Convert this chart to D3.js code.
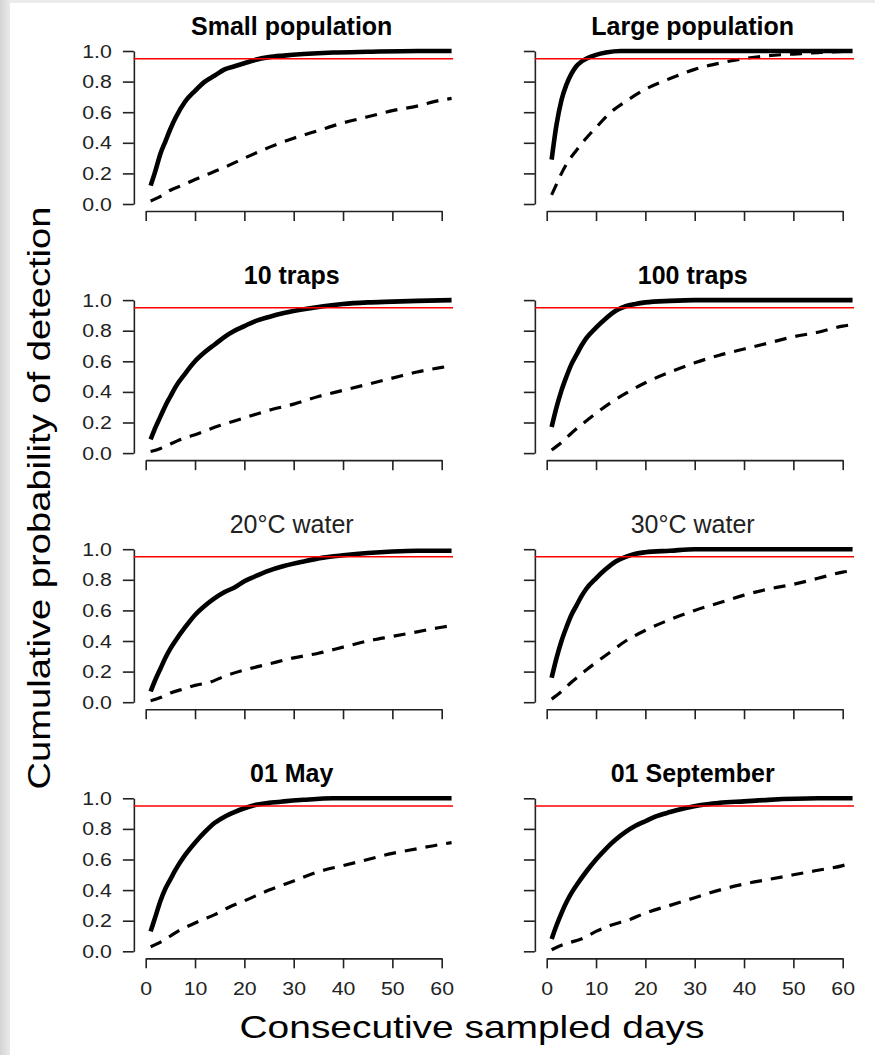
<!DOCTYPE html>
<html>
<head>
<meta charset="utf-8">
<script src="https://cdn.jsdelivr.net/npm/d3@7"></script>
<style>
  body { margin: 0; background: #fff; }
  svg text { font-family: "Liberation Sans", Arial, sans-serif; }
</style>
</head>
<body>
<div id="chart"></div>
<script>
// panel titles, left to right, top to bottom
let panelTitles = ["Small population", "Large population", "10 traps", "100 traps",
    "20\u00B0C water", "30\u00B0C water", "01 May", "01 September"];
let titleBold = [true, true, true, true, false, false, true, true];

let xTicks = [0, 10, 20, 30, 40, 50, 60];
let yTicks = [0, 0.2, 0.4, 0.6, 0.8, 1.0];
let threshold = 0.95;

// [day, cumulative probability]
let smallPopSolid = [[1,0.12],[2,0.22],[3,0.33],[4,0.41],[5,0.49],[6,0.56],[8,0.67],[10,0.74],[12,0.80],[14,0.84],[16,0.88],[18,0.90],[20,0.92],[22,0.94],[25,0.96],[28,0.97],[32,0.98],[38,0.99],[45,0.995],[55,1.0],[62,1.0]];
let smallPopDash = [[1,0.02],[3,0.05],[5,0.09],[8,0.13],[10,0.16],[13,0.20],[16,0.24],[20,0.30],[25,0.37],[30,0.43],[35,0.48],[40,0.53],[45,0.57],[50,0.61],[55,0.64],[60,0.68],[62,0.69]];

let largePopSolid = [[1,0.29],[2,0.52],[3,0.68],[4,0.78],[5,0.85],[6,0.90],[7,0.93],[8,0.95],[10,0.975],[12,0.99],[15,1.0],[62,1.0]];
let largePopDash = [[1,0.06],[2,0.13],[3,0.20],[4,0.26],[6,0.35],[8,0.43],[10,0.50],[13,0.60],[16,0.67],[20,0.75],[25,0.82],[30,0.88],[35,0.92],[40,0.95],[45,0.97],[50,0.98],[55,0.99],[62,1.0]];

let traps10Solid = [[1,0.09],[2,0.17],[3,0.24],[4,0.31],[5,0.37],[6,0.43],[8,0.52],[10,0.60],[12,0.66],[14,0.71],[16,0.76],[18,0.80],[20,0.83],[22,0.86],[25,0.89],[28,0.915],[32,0.94],[36,0.96],[40,0.975],[45,0.985],[50,0.99],[55,0.995],[62,1.0]];
let traps10Dash = [[1,0.01],[3,0.03],[5,0.06],[8,0.10],[10,0.12],[15,0.18],[20,0.23],[25,0.28],[30,0.32],[35,0.37],[40,0.41],[45,0.45],[50,0.49],[55,0.53],[60,0.56],[62,0.57]];

let traps100Solid = [[1,0.17],[2,0.30],[3,0.41],[4,0.50],[5,0.58],[6,0.64],[7,0.70],[8,0.75],[10,0.82],[12,0.88],[14,0.93],[16,0.96],[18,0.975],[20,0.985],[25,0.995],[30,1.0],[62,1.0]];
let traps100Dash = [[1,0.02],[3,0.07],[5,0.13],[8,0.21],[10,0.26],[13,0.33],[16,0.39],[20,0.46],[25,0.53],[30,0.59],[35,0.64],[40,0.68],[45,0.72],[50,0.76],[55,0.79],[60,0.83],[62,0.84]];

let water20Solid = [[1,0.07],[2,0.15],[3,0.22],[4,0.29],[5,0.35],[6,0.40],[8,0.49],[10,0.57],[12,0.63],[14,0.68],[16,0.72],[18,0.75],[20,0.79],[22,0.82],[25,0.86],[28,0.89],[32,0.92],[36,0.945],[40,0.96],[45,0.975],[50,0.985],[55,0.99],[62,0.99]];
let water20Dash = [[1,0.01],[3,0.03],[5,0.06],[8,0.09],[10,0.11],[13,0.13],[16,0.17],[20,0.21],[25,0.25],[30,0.29],[35,0.32],[40,0.36],[45,0.40],[50,0.43],[55,0.46],[60,0.49],[62,0.50]];

let water30Solid = [[1,0.16],[2,0.29],[3,0.40],[4,0.49],[5,0.57],[6,0.63],[7,0.69],[8,0.74],[10,0.81],[12,0.87],[14,0.92],[16,0.95],[18,0.97],[20,0.98],[25,0.99],[30,1.0],[62,1.0]];
let water30Dash = [[1,0.02],[3,0.07],[5,0.13],[8,0.21],[10,0.26],[13,0.33],[16,0.40],[20,0.47],[25,0.54],[30,0.60],[35,0.65],[40,0.70],[45,0.74],[50,0.77],[55,0.81],[60,0.85],[62,0.86]];

let maySolid = [[1,0.13],[2,0.23],[3,0.33],[4,0.41],[5,0.47],[6,0.53],[8,0.63],[10,0.71],[12,0.78],[14,0.84],[16,0.88],[18,0.91],[20,0.935],[22,0.955],[25,0.97],[28,0.98],[32,0.99],[38,1.0],[62,1.0]];
let mayDash = [[1,0.03],[3,0.06],[5,0.10],[7,0.14],[9,0.17],[11,0.20],[14,0.24],[17,0.29],[20,0.33],[25,0.40],[30,0.46],[35,0.52],[40,0.56],[45,0.60],[50,0.64],[55,0.67],[60,0.70],[62,0.71]];

let septSolid = [[1,0.08],[2,0.17],[3,0.25],[4,0.32],[5,0.38],[6,0.43],[8,0.52],[10,0.60],[12,0.67],[14,0.73],[16,0.78],[18,0.82],[20,0.85],[22,0.88],[25,0.91],[28,0.935],[31,0.955],[35,0.97],[40,0.98],[45,0.99],[55,1.0],[62,1.0]];
let septDash = [[1,0.01],[3,0.04],[5,0.06],[7,0.08],[10,0.13],[13,0.17],[17,0.21],[20,0.25],[25,0.30],[30,0.35],[35,0.40],[40,0.44],[45,0.47],[50,0.50],[55,0.53],[60,0.56],[62,0.58]];

let solidSeries = [smallPopSolid, largePopSolid, traps10Solid, traps100Solid, water20Solid, water30Solid, maySolid, septSolid];
let dashSeries = [smallPopDash, largePopDash, traps10Dash, traps100Dash, water20Dash, water30Dash, mayDash, septDash];

let width = 875, height = 1055;

let svg = d3.select("#chart").append("svg")
    .attr("width", width)
    .attr("height", height);

// grey scanned border on the left and top
let defs = svg.append("defs");
let grad = defs.append("linearGradient").attr("id", "edge").attr("x1", 0).attr("x2", 1);
grad.append("stop").attr("offset", "0%").attr("stop-color", "#d4d4d4");
grad.append("stop").attr("offset", "100%").attr("stop-color", "#eaeaea");
svg.append("rect").attr("x", 0).attr("y", 0).attr("width", width).attr("height", 3).attr("fill", "#ebebeb");
svg.append("rect").attr("x", 0).attr("y", 0).attr("width", 10).attr("height", height).attr("fill", "url(#edge)");

// panel layout
let panelLeft = 134, panelTop = 51;
let colStep = 401, rowStep = 249.1;
let plotH = 153;

// scales inside a panel (origin = top of y axis)
let x = d3.scaleLinear().domain([0, 60]).range([11.7, 307.7]);
let y = d3.scaleLinear().domain([0, 1]).range([plotH, 0]);
let xlim = [-2.4, 62.3];
let ylim = [-0.046, 1.04];

let line = d3.line()
    .x(d => x(d[0]))
    .y(d => y(d[1]))
    .curve(d3.curveMonotoneX);

panelTitles.forEach(function (title, i) {
    let col = i % 2, row = Math.floor(i / 2);
    let g = svg.append("g")
        .attr("transform", "translate(" + (panelLeft + col * colStep) + "," + (panelTop + row * rowStep) + ")");

    // y axis
    let yAxis = g.append("g")
        .attr("transform", "translate(" + x(xlim[0]) + ",0)")
        .call(d3.axisLeft(y).tickValues(yTicks).tickSizeInner(11).tickSizeOuter(0).tickPadding(11)
            .tickFormat(d3.format(".1f")));

    // x axis
    let xAxis = g.append("g")
        .attr("transform", "translate(0," + y(ylim[0]) + ")")
        .call(d3.axisBottom(x).tickValues(xTicks).tickSizeInner(10).tickSizeOuter(0).tickPadding(13));

    [yAxis, xAxis].forEach(function (ax) {
        ax.select(".domain").attr("stroke", "#222").attr("stroke-width", 1.6);
        ax.selectAll(".tick line").attr("stroke", "#222").attr("stroke-width", 1.6);
        ax.selectAll(".tick text").attr("fill", "#222").style("font-size", "19px")
            .attr("lengthAdjust", "spacingAndGlyphs")
            .attr("textLength", function () { return this.getComputedTextLength() * 1.12; });
    });
    // only the bottom row carries x tick labels
    if (row < 3) xAxis.selectAll(".tick text").remove();
    // only the left column carries y tick labels
    if (col > 0) yAxis.selectAll(".tick text").remove();

    // curves
    g.append("path")
        .datum(dashSeries[i])
        .attr("d", line)
        .attr("fill", "none")
        .attr("stroke", "#000")
        .attr("stroke-width", 3.2)
        .attr("stroke-dasharray", "12,9");

    g.append("path")
        .datum(solidSeries[i])
        .attr("d", line)
        .attr("fill", "none")
        .attr("stroke", "#000")
        .attr("stroke-width", 4.6);

    // 0.95 reference line
    g.append("line")
        .attr("x1", x(xlim[0]))
        .attr("x2", x(xlim[1]))
        .attr("y1", y(threshold))
        .attr("y2", y(threshold))
        .attr("stroke", "#ff0000")
        .attr("stroke-width", 1.5);

    // title
    g.append("text")
        .attr("x", (x(0) + x(60)) / 2 - 2)
        .attr("y", y(1) - 16)
        .attr("text-anchor", "middle")
        .style("font-size", "25px")
        .style("font-weight", titleBold[i] ? "bold" : "normal")
        .attr("fill", titleBold[i] ? "#000" : "#222")
        .text(title);
});

// shared axis labels
svg.append("text")
    .attr("transform", "translate(50,498) rotate(-90)")
    .attr("text-anchor", "middle")
    .attr("textLength", 583)
    .attr("lengthAdjust", "spacingAndGlyphs")
    .style("font-size", "32px")
    .attr("fill", "#000")
    .text("Cumulative probability of detection");

svg.append("text")
    .attr("x", 472)
    .attr("y", 1038)
    .attr("text-anchor", "middle")
    .attr("textLength", 465)
    .attr("lengthAdjust", "spacingAndGlyphs")
    .style("font-size", "32px")
    .attr("fill", "#000")
    .text("Consecutive sampled days");
</script>
</body>
</html>
